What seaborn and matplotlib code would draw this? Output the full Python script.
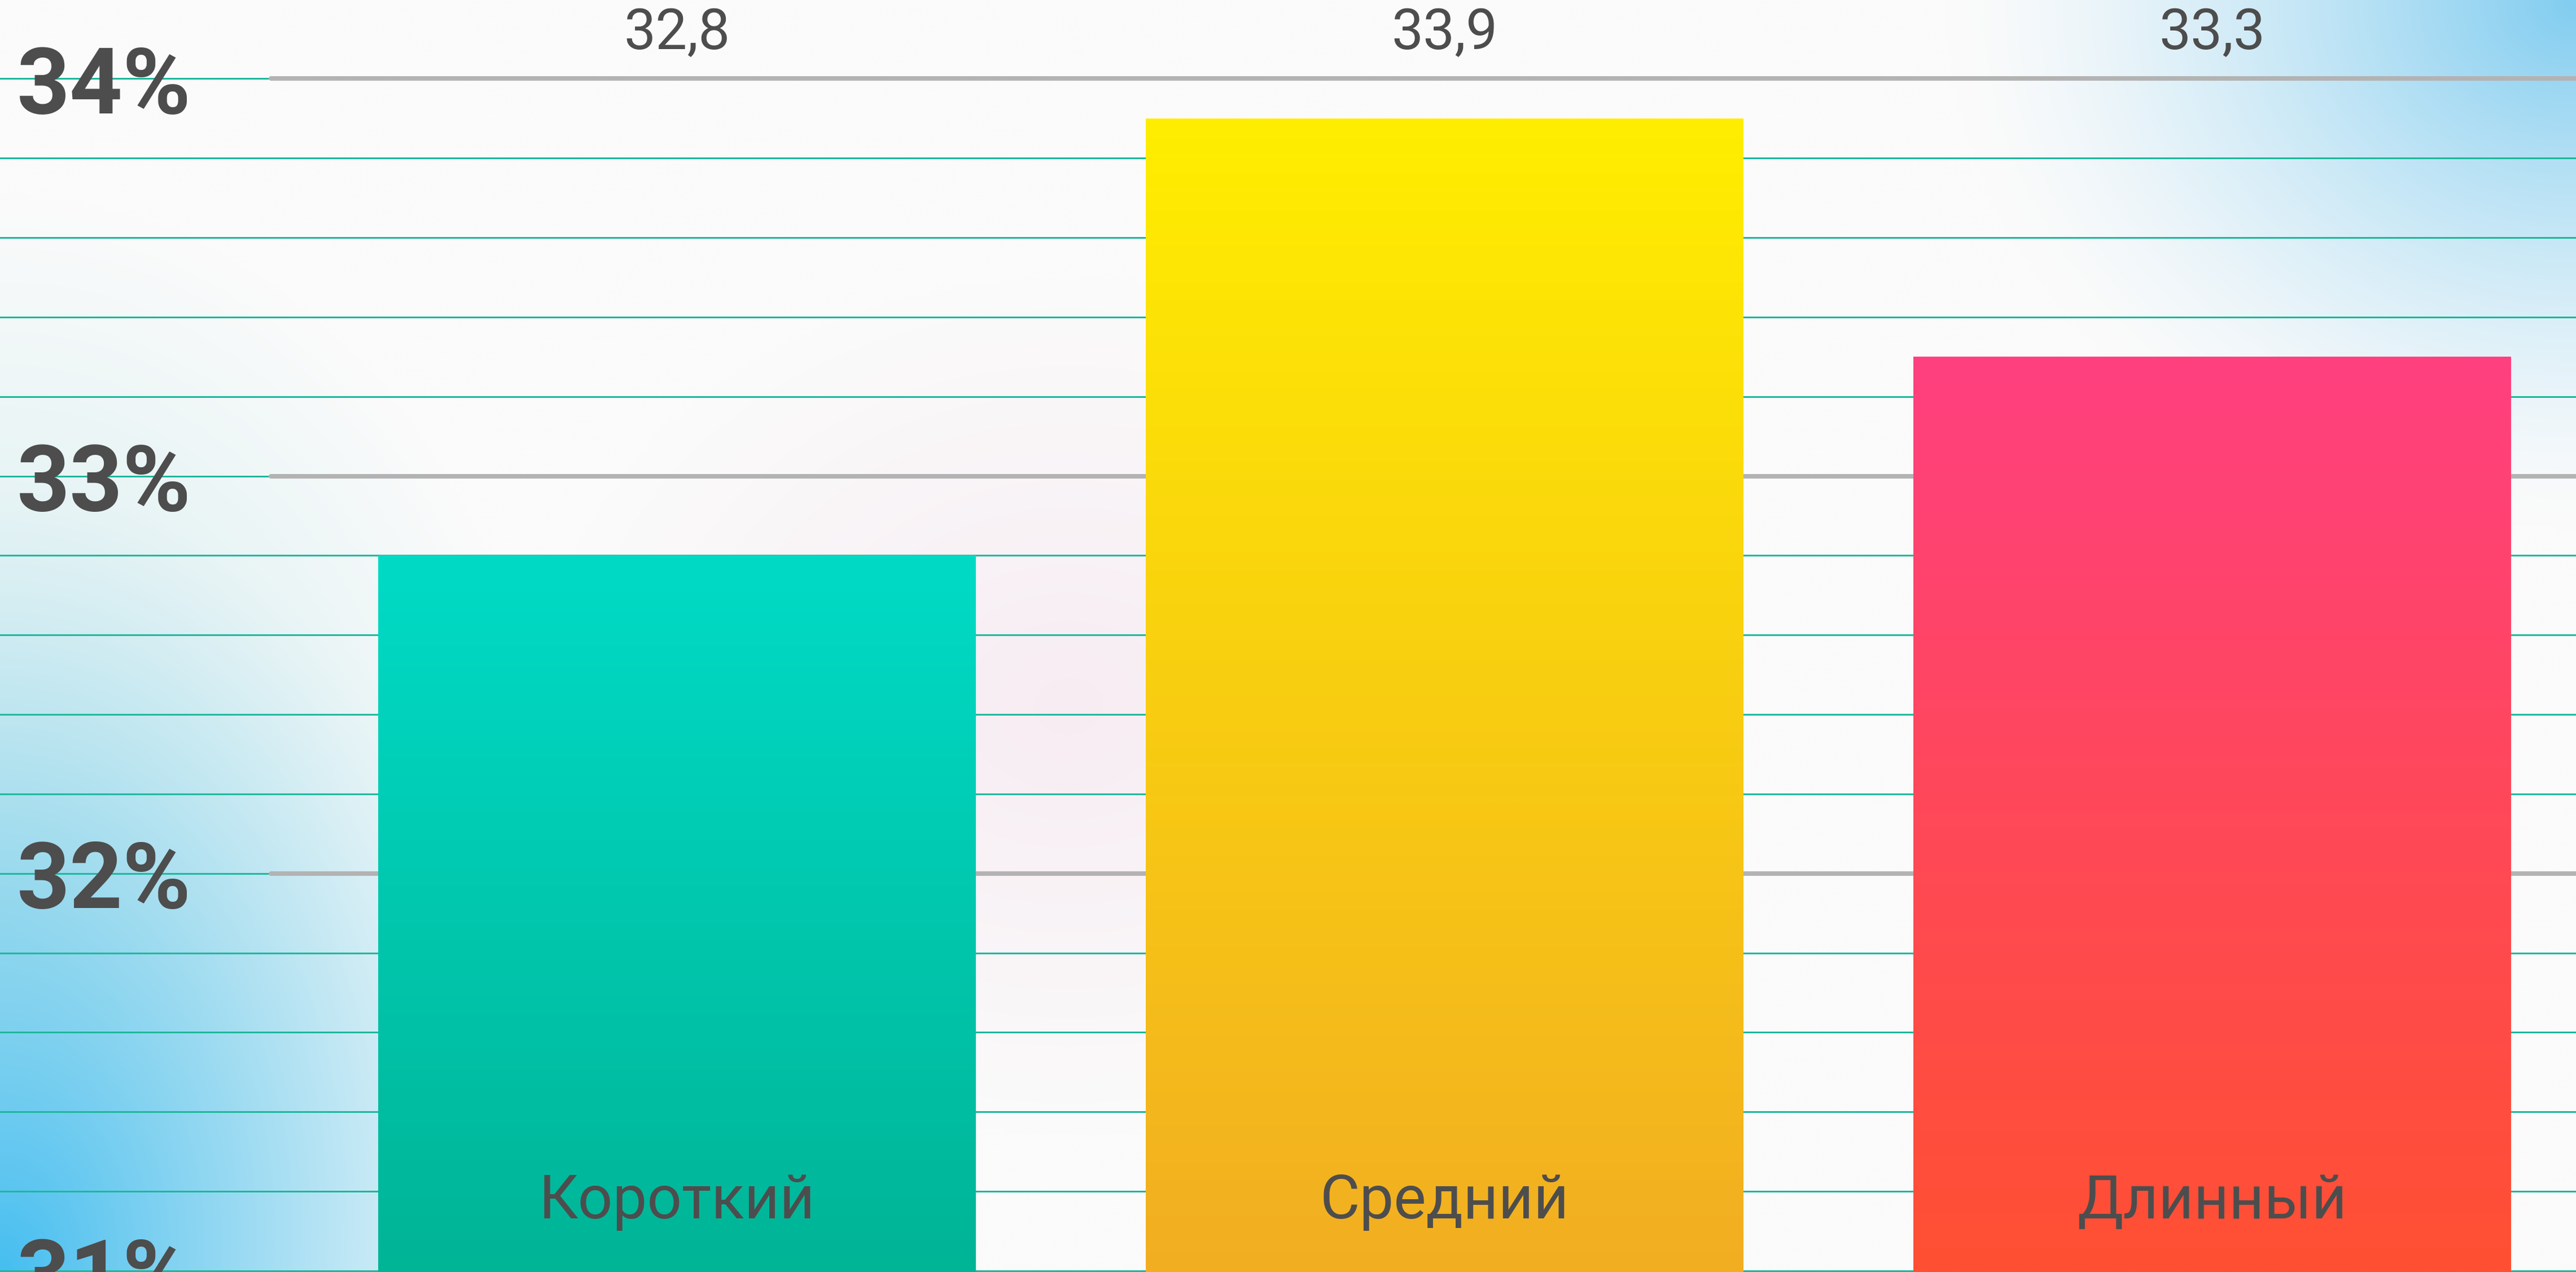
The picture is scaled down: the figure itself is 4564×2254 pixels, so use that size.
import numpy as np
import pandas as pd
import seaborn as sns
import matplotlib.pyplot as plt
import matplotlib.transforms as mtransforms
from matplotlib.colors import to_rgb
from matplotlib.ticker import MultipleLocator

# данные
categories = ["Короткий", "Средний", "Длинный"]
values = [32.8, 33.9, 33.3]
value_labels = ["32,8", "33,9", "33,3"]
tick_values = [31, 32, 33, 34]
tick_labels = ["31%", "32%", "33%", "34%"]
top_colors = ["#00dbc6", "#ffee00", "#ff4080"]
bottom_colors = ["#00b496", "#f2ae22", "#ff5032"]

df = pd.DataFrame({"category": categories, "value": values})

sns.set_theme(style="white")
plt.rcParams["font.family"] = ["Roboto", "DejaVu Sans"]
text_color = "#4d4d4d"

fig = plt.figure(figsize=(45.64, 22.54), dpi=100)

# фон: светлый с голубыми углами
bg = fig.add_axes([0, 0, 1, 1], zorder=0)
H, W = 226, 456
yy, xx = np.mgrid[0:H, 0:W]
xx = xx / (W - 1) * 1568
yy = yy / (H - 1) * 774
img = np.ones((H, W, 3)) * np.array(to_rgb("#fbfbfb"))
blobs = [
    (650, 430, 320, 260, (244, 226, 236), 0.6, 1.0),
    (0, 560, 340, 440, (170, 222, 226), 0.6, 1.0),
    (0, 774, 360, 480, (70, 190, 240), 1.0, 1.4),
    (1568, 0, 380, 320, (130, 205, 240), 1.0, 1.4),
]
for cx, cy, rx, ry, col, amax, pw in blobs:
    d = np.sqrt(((xx - cx) / rx) ** 2 + ((yy - cy) / ry) ** 2)
    a = (amax * np.clip(1 - d, 0, 1) ** pw)[..., None]
    img = img * (1 - a) + np.array(col) / 255 * a
bg.imshow(img, extent=[0, 1, 0, 1], aspect="auto", interpolation="bilinear")
bg.set_axis_off()

ax = fig.add_axes([0, 0, 1, 1], zorder=1)
ax.set_facecolor("none")

sns.barplot(data=df, x="category", y="value", hue="category", palette=top_colors,
            width=0.778, legend=False, ax=ax, zorder=3)

ymin, ymax = 30.997, 34.198
xmin, xmax = -0.882, 2.474

# градиентная заливка столбцов
for patch, top, bottom in zip(ax.patches, top_colors, bottom_colors):
    x0 = patch.get_x()
    x1 = x0 + patch.get_width()
    h = patch.get_height()
    t = np.linspace(0, 1, 256)[:, None, None]
    grad = np.array(to_rgb(bottom)) * (1 - t) + np.array(to_rgb(top)) * t
    im = ax.imshow(grad, extent=[x0, x1, ymin, h], origin="lower",
                   aspect="auto", zorder=3, interpolation="bilinear")
    im.set_clip_path(patch)
    patch.set_facecolor("none")
    patch.set_edgecolor("none")
ax.set_xlim(xmin, xmax)
ax.set_ylim(ymin, ymax)

# сетка
ax.yaxis.set_minor_locator(MultipleLocator(0.2))
ax.set_yticks(tick_values)
ax.grid(which="both", axis="y", color="#1fb89c", linewidth=2.2)
ax.grid(which="both", axis="x", visible=False)
ax.set_axisbelow(True)
for v in tick_values[1:]:
    ax.axhline(v, xmin=480 / 4564, xmax=1, color="#b3b3b3", linewidth=5.8, zorder=1)

ax.set_yticklabels([])
ax.set_xticklabels([])
ax.tick_params(left=False, bottom=False, which="both")
ax.set_xlabel("")
ax.set_ylabel("")
for s in ax.spines.values():
    s.set_visible(False)

# подписи оси Y внутри поля
trans = mtransforms.blended_transform_factory(ax.transAxes, ax.transData)
for v, lab in zip(tick_values, tick_labels):
    ax.text(0.0066, v, lab, transform=trans, ha="left", va="center_baseline",
            fontsize=118, fontweight="bold", color=text_color, zorder=5)

# значения над графиком и названия в столбцах
for i, (lab, cat) in enumerate(zip(value_labels, categories)):
    ax.text(i, 34.114, lab, ha="center", va="center", fontsize=72,
            fontweight="normal", color=text_color, zorder=5)
    ax.text(i, 31.19, cat, ha="center", va="center_baseline", fontsize=78,
            fontweight="normal", color=text_color, zorder=5)

fig.savefig("out.png", dpi=100)
